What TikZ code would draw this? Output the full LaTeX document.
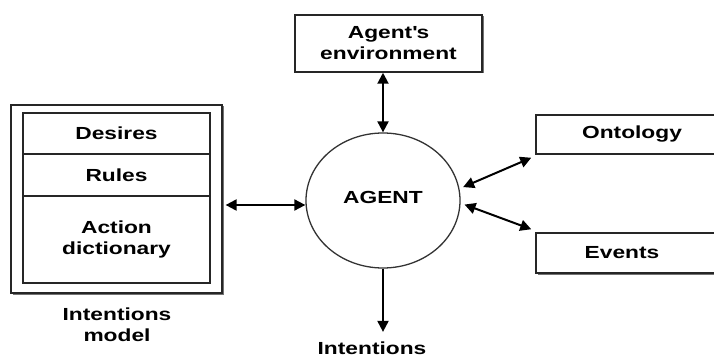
\documentclass[tikz,border=0pt]{standalone}
\usepackage{fontspec}
\setmainfont{Liberation Sans}[FakeStretch=1.3]
\usetikzlibrary{arrows.meta,calc,positioning,shadows,shapes.geometric}

\begin{document}
\begin{tikzpicture}[x=1pt,y=-1pt,
		font=\fontsize{17.5}{21}\selectfont\bfseries,
		box/.style={draw=black!85,line width=1.5pt,fill=white,inner sep=0pt,
			drop shadow={shadow xshift=1.5pt,shadow yshift=-1.5pt,fill=black!55,opacity=1}},
		cell/.style={draw=black!85,line width=1.5pt,inner sep=0pt,minimum width=187pt,align=center},
		lbl/.style={inner sep=0pt,align=center},
		biarrow/.style={{Triangle[length=11pt,width=11pt]}-{Triangle[length=11pt,width=11pt]},line width=2pt},
		onearrow/.style={-{Triangle[length=11pt,width=11pt]},line width=2pt}]
		\useasboundingbox (0,0) rectangle (714,358);
		% intentions model with its three parts
		\node[box,line width=1.2pt,minimum width=211pt,minimum height=188pt] (model) at (116.5,199) {};
		\node[cell,minimum height=41pt] (desires) at (116.5,133.5) {Desires};
		\node[cell,minimum height=42pt] (rules) at (116.5,175) {Rules};
		\node[cell,minimum height=87pt] (action) at (116.5,239.5) {Action\\dictionary};
		\node[lbl] (modeltxt) at (117,324.5) {Intentions\\model};
		% agent and what it talks to
		\node[ellipse,draw=black!80,line width=1.3pt,minimum width=154pt,minimum height=135pt,
			inner sep=0pt,text depth=7pt] (agent) at (383,200.5) {AGENT};
		\node[box,minimum width=187pt,minimum height=57pt,align=center] (env) at (388.5,43.5) {Agent\textquotesingle s\\environment};
		\node[box,minimum width=200pt,minimum height=39pt] (onto) at (636,134.5) {};
		\node[lbl] (ontotxt) at (632,134.5) {Ontology};
		\node[box,minimum width=200pt,minimum height=40pt] (events) at (636,253) {};
		\node[lbl] (eventstxt) at (622,253) {Events};
		\node[lbl] (intent) at (372,348.5) {Intentions};
		% links
		\draw[biarrow] ([xshift=3pt,yshift=-6pt]model.east) -- ([yshift=-4.5pt]agent.west);
		\draw[biarrow] (agent.north |- env.south) -- (agent.north);
		\draw[biarrow] ([xshift=4pt]agent.10) -- ([xshift=-4pt,yshift=-3pt]onto.south west);
		\draw[biarrow] ([xshift=4pt]agent.-3) -- ([xshift=-4pt,yshift=3pt]events.north west);
		\draw[onearrow] (agent.south) -- ([yshift=10pt]agent.south |- intent.north);
\end{tikzpicture}
\end{document}
